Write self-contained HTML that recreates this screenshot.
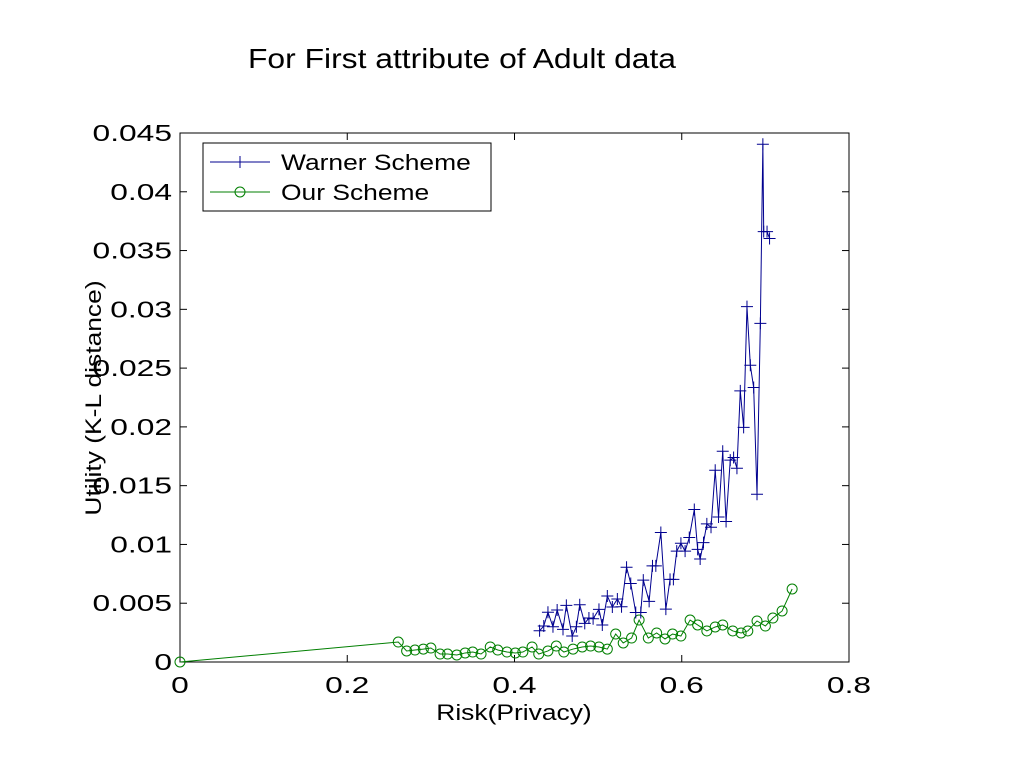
<!DOCTYPE html>
<html><head><meta charset="utf-8"><style>
body{margin:0;background:#fff;width:1024px;height:768px;overflow:hidden}
svg{font-family:"Liberation Sans",Arial,sans-serif}
</style></head><body>
<svg id="chart" width="1024" height="768">
<text x="462" y="68" font-size="28" text-anchor="middle" textLength="428" lengthAdjust="spacingAndGlyphs">For First attribute of Adult data</text>
<rect x="180" y="133" width="669" height="529" fill="#fff" stroke="#000" stroke-width="1"/>
<g id="axes"></g>
<g id="series"></g>
<text class="stretch" x="514" y="720" font-size="22" text-anchor="middle">Risk(Privacy)</text>
<text class="stretch" transform="translate(101,398) rotate(-90)" font-size="22" text-anchor="middle">Utility (K-L distance)</text>
<g>
<rect x="203" y="143" width="288" height="68" fill="#fff" stroke="#000"/>
<g>
<line x1="210" y1="162" x2="270" y2="162" stroke="#00008f"/>
<line x1="234" y1="162" x2="246" y2="162" stroke="#00008f"/><line x1="240" y1="156" x2="240" y2="168" stroke="#00008f"/>
<text class="stretch" x="281" y="170" font-size="22">Warner Scheme</text></g>
<g>
<line x1="210" y1="192" x2="270" y2="192" stroke="#007f00"/>
<circle cx="240" cy="192" r="5" fill="none" stroke="#007f00"/>
<text class="stretch" x="281" y="200" font-size="22">Our Scheme</text></g>
</g>
</svg>
<script>
const xTicks=[0,0.2,0.4,0.6,0.8];
const xTickLabels=["0","0.2","0.4","0.6","0.8"];
const yTicks=[0,0.005,0.01,0.015,0.02,0.025,0.03,0.035,0.04,0.045];
const yTickLabels=["0","0.005","0.01","0.015","0.02","0.025","0.03","0.035","0.04","0.045"];
const warnerX=[.430,.435,.440,.446,.451,.458,.462,.469,.474,.478,.484,.489,.494,.501,.505,.511,.517,.523,.528,.534,.539,.545,.551,.554,.561,.565,.569,.575,.581,.586,.590,.594,.599,.604,.609,.615,.619,.622,.626,.630,.635,.640,.644,.649,.653,.658,.662,.666,.670,.674,.678,.682,.686,.690,.694,.697,.698,.702,.705];
const warnerY=[.00266,.00306,.00423,.00300,.00442,.00278,.00482,.00221,.00300,.00487,.00329,.00374,.00368,.00448,.00315,.00561,.00468,.00536,.00470,.00806,.00668,.00421,.00421,.00697,.00516,.00818,.00818,.01102,.00450,.00703,.00703,.00943,.01010,.00943,.01059,.01297,.00958,.00876,.01016,.01175,.01146,.01631,.01233,.01793,.01195,.01717,.01740,.01648,.02306,.01996,.03023,.02524,.02335,.01427,.02881,.04404,.03661,.03661,.03603];
const oursX=[0,.261,.271,.281,.291,.300,.311,.320,.331,.341,.350,.360,.371,.380,.391,.401,.410,.421,.429,.440,.450,.459,.470,.481,.491,.501,.511,.521,.530,.540,.549,.560,.570,.580,.589,.599,.610,.619,.630,.640,.649,.661,.671,.679,.690,.700,.709,.720,.732];
const oursY=[0,.0017,.00094,.00102,.0011,.00119,.00068,.00068,.0006,.00077,.00085,.00068,.00128,.00102,.00085,.00077,.00085,.00128,.00068,.00094,.00136,.00085,.0011,.00128,.00136,.00128,.0011,.00238,.00162,.00204,.00357,.00204,.00247,.00196,.00238,.00221,.00357,.00315,.00264,.00298,.00315,.00264,.00247,.00264,.00349,.00306,.00374,.00434,.00621];
const NS="http://www.w3.org/2000/svg";
const X0=180,X1=849,Y0=662,Y1=133;
const sx=v=>X0+(v-0)/(0.8-0)*(X1-X0);
const sy=v=>Y0-(v-0)/(0.045-0)*(Y0-Y1);
function mk(tag,attrs,parent){const e=document.createElementNS(NS,tag);for(const k in attrs)e.setAttribute(k,attrs[k]);parent.appendChild(e);return e;}
const axes=document.getElementById('axes'),series=document.getElementById('series');
function stretch(t,f){const w=t.getComputedTextLength();t.setAttribute('textLength',w*f);t.setAttribute('lengthAdjust','spacingAndGlyphs');}
xTicks.forEach((t,i)=>{const x=sx(t);
mk('line',{x1:x,y1:Y0,x2:x,y2:Y0-7,stroke:'#000'},axes);
mk('line',{x1:x,y1:Y1,x2:x,y2:Y1+7,stroke:'#000'},axes);
const tx=mk('text',{x:x,y:Y0+31,'font-size':23,'text-anchor':'middle'},axes);tx.textContent=xTickLabels[i];


stretch(tx,1.38);});
yTicks.forEach((t,i)=>{const y=sy(t);
mk('line',{x1:X0,y1:y,x2:X0+7,y2:y,stroke:'#000'},axes);
mk('line',{x1:X1,y1:y,x2:X1-7,y2:y,stroke:'#000'},axes);
const tx=mk('text',{x:X0-8,y:y+8,'font-size':23,'text-anchor':'end'},axes);tx.textContent=yTickLabels[i];


stretch(tx,1.38);});
document.querySelectorAll('.stretch').forEach(t=>stretch(t,1.2));
function draw(xs,ys,col,marker,name){
const g=mk('g',{},series);


const pl=mk('polyline',{points:xs.map((x,i)=>sx(x)+','+sy(ys[i])).join(' '),fill:'none',stroke:col,'stroke-width':1},g);


xs.forEach((x,i)=>{const cx=sx(x),cy=sy(ys[i]);let m;
if(marker==='plus'){m=mk('path',{d:`M${cx-6},${cy}H${cx+6}M${cx},${cy-6}V${cy+6}`,stroke:col,fill:'none'},g);}
else{m=mk('circle',{cx:cx,cy:cy,r:5,fill:'none',stroke:col},g);}

});}
draw(oursX,oursY,'#007f00','circle','our-scheme-series');
draw(warnerX,warnerY,'#00008f','plus','warner-scheme-series');
</script>
</body></html>
